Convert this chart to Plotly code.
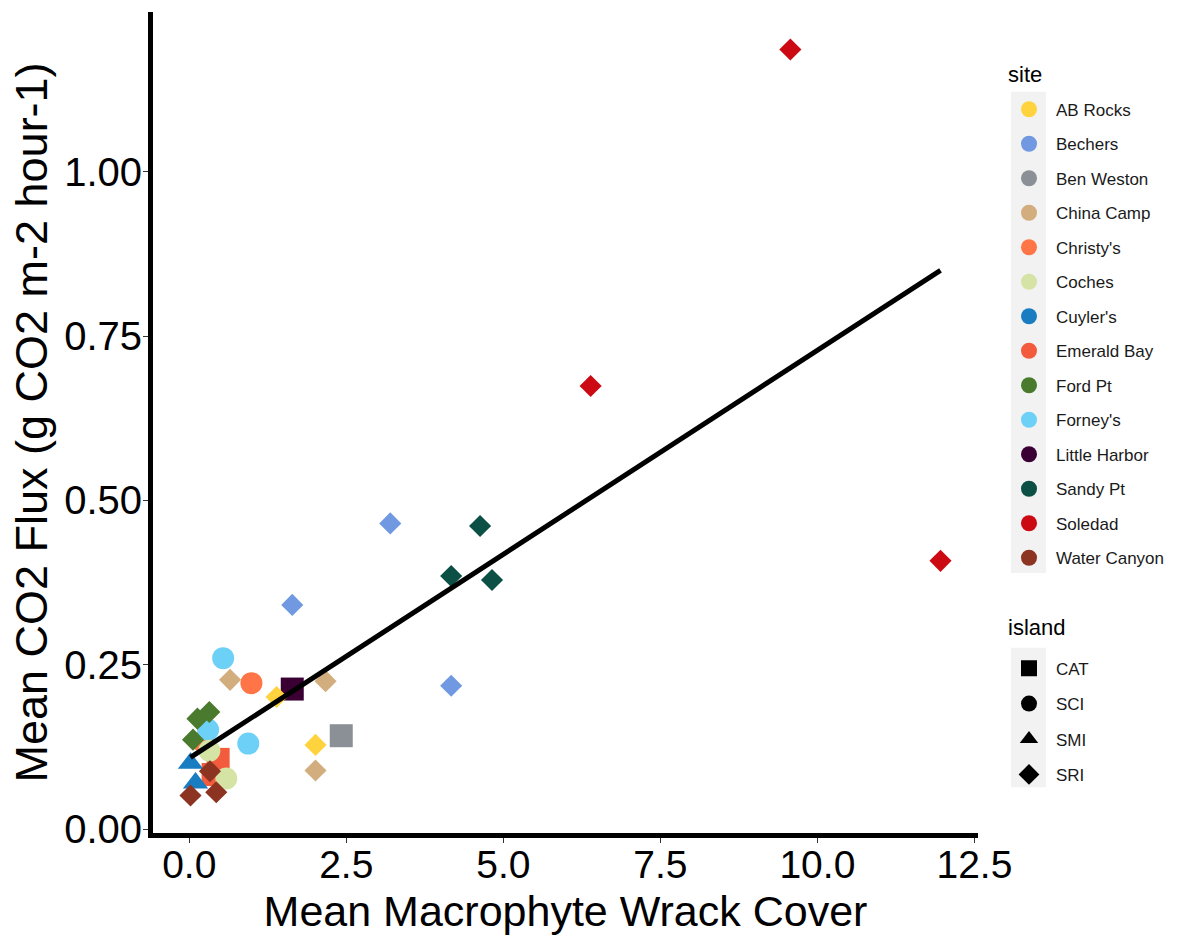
import plotly.graph_objects as go

# ---------------- data ----------------
site_names = ["AB Rocks", "Bechers", "Ben Weston", "China Camp", "Christy's", "Coches",
              "Cuyler's", "Emerald Bay", "Ford Pt", "Forney's", "Little Harbor",
              "Sandy Pt", "Soledad", "Water Canyon"]
site_colors = ["#FFD33D", "#7099E2", "#8A9096", "#D2AE7E", "#FF7547", "#D5E3A4",
               "#1A7DC2", "#F25C3D", "#4A7A2E", "#6DD0F7", "#3A0033",
               "#0B4F45", "#CC0A14", "#8C3322"]

island_names = ["CAT", "SCI", "SMI", "SRI"]
island_symbols = ["square", "circle", "triangle-up", "diamond"]

point_site = ["Soledad", "Soledad", "Soledad",
              "Sandy Pt", "Sandy Pt", "Sandy Pt",
              "Bechers", "Bechers", "Bechers",
              "Little Harbor", "Ben Weston",
              "China Camp", "China Camp", "China Camp",
              "AB Rocks", "AB Rocks",
              "Christy's", "Christy's",
              "Forney's", "Forney's", "Forney's",
              "Ford Pt", "Ford Pt", "Ford Pt",
              "Emerald Bay", "Emerald Bay",
              "Coches", "Coches",
              "Cuyler's", "Cuyler's",
              "Water Canyon", "Water Canyon", "Water Canyon"]
point_island = ["SRI", "SRI", "SRI",
                "SRI", "SRI", "SRI",
                "SRI", "SRI", "SRI",
                "CAT", "CAT",
                "SRI", "SRI", "SRI",
                "SRI", "SRI",
                "SCI", "SCI",
                "SCI", "SCI", "SCI",
                "SRI", "SRI", "SRI",
                "CAT", "CAT",
                "SCI", "SCI",
                "SMI", "SMI",
                "SRI", "SRI", "SRI"]
wrack_cover = [9.57, 6.39, 11.96,
               4.63, 4.17, 4.82,
               3.20, 4.17, 1.64,
               1.64, 2.42,
               0.65, 2.17, 2.01,
               1.39, 2.01,
               0.99, 0.22,
               0.54, 0.30, 0.94,
               0.06, 0.13, 0.32,
               0.46, 0.38,
               0.32, 0.59,
               0.02, 0.10,
               0.33, 0.02, 0.43]
co2_flux = [1.186, 0.674, 0.408,
            0.461, 0.385, 0.379,
            0.465, 0.218, 0.341,
            0.213, 0.142,
            0.227, 0.225, 0.089,
            0.201, 0.128,
            0.222, 0.133,
            0.260, 0.151, 0.130,
            0.136, 0.168, 0.178,
            0.106, 0.083,
            0.119, 0.077,
            0.100, 0.070,
            0.088, 0.051, 0.056]

# linear fit line
trend_x = [0.02, 11.96]
trend_y = [0.109, 0.850]

x_ticks = [0.0, 2.5, 5.0, 7.5, 10.0, 12.5]
x_tick_labels = ["0.0", "2.5", "5.0", "7.5", "10.0", "12.5"]
y_ticks = [0.0, 0.25, 0.5, 0.75, 1.0]
y_tick_labels = ["0.00", "0.25", "0.50", "0.75", "1.00"]

# ---------------- styling ----------------
FONT = "Arial, Liberation Sans, sans-serif"
sym_map = dict(zip(island_names, island_symbols))
size_map = {"square": 23, "circle": 22, "triangle-up": 22, "diamond": 17}
color_map = dict(zip(site_names, site_colors))

fig = go.Figure()

# data points, drawn in row order
for i in range(len(wrack_cover)):
    sym = sym_map[point_island[i]]
    fig.add_trace(go.Scatter(
        x=[wrack_cover[i]], y=[co2_flux[i]], mode="markers",
        marker=dict(color=color_map[point_site[i]], symbol=sym, size=size_map[sym],
                    line=dict(width=0)),
        showlegend=False, hoverinfo="skip"))

# regression line
fig.add_trace(go.Scatter(x=trend_x, y=trend_y, mode="lines",
                         line=dict(color="black", width=5),
                         showlegend=False, hoverinfo="skip"))

# legend entries: site
for name, col in zip(site_names, site_colors):
    fig.add_trace(go.Scatter(x=[None], y=[None], mode="markers", name=name,
                             marker=dict(color=col, symbol="circle", size=16),
                             legend="legend", legendgroup=name))
# legend entries: island
for name, sym in zip(island_names, island_symbols):
    fig.add_trace(go.Scatter(x=[None], y=[None], mode="markers", name=name,
                             marker=dict(color="black", symbol=sym, size=16),
                             legend="legend2", legendgroup="isl_" + name))

L, R, T, B = 153, 204, 12, 105
W, H = 1182, 941
pw, ph = W - L - R, H - T - B

def px_x(p):
    return (p - L) / pw

def px_y(p):
    return (H - B - p) / ph

legend_common = dict(
    xanchor="left", yanchor="top", bgcolor="rgba(0,0,0,0)", borderwidth=0,
    font=dict(family=FONT, size=17, color="#1a1a1a"),
    itemwidth=44, itemclick=False, itemdoubleclick=False,
)

fig.update_layout(
    width=W, height=H,
    margin=dict(l=L, r=R, t=T, b=B, pad=0),
    paper_bgcolor="white", plot_bgcolor="white",
    font=dict(family=FONT, color="black"),
    xaxis=dict(range=[-0.577, 12.557], tickvals=x_ticks, ticktext=x_tick_labels,
               showgrid=False, zeroline=False, showline=True, linecolor="black",
               linewidth=5, ticks="outside", ticklen=5, tickwidth=1.2, tickcolor="#333333",
               tickfont=dict(family=FONT, size=39, color="black"),
               ticklabelstandoff=-12,
               title=dict(text="Mean Macrophyte Wrack Cover",
                          font=dict(family=FONT, size=43, color="black"), standoff=13)),
    yaxis=dict(range=[-0.006, 1.243], tickvals=y_ticks, ticktext=y_tick_labels,
               showgrid=False, zeroline=False, showline=True, linecolor="black",
               linewidth=5, ticks="outside", ticklen=5, tickwidth=1.2, tickcolor="#333333",
               tickfont=dict(family=FONT, size=40, color="black"),
               ticklabelstandoff=-7,
               title=dict(text="Mean CO2 Flux (g CO2 m-2 hour-1)",
                          font=dict(family=FONT, size=45, color="black"), standoff=4)),
    legend=dict(x=px_x(1002), y=px_y(92), tracegroupgap=9.4, **legend_common),
    legend2=dict(x=px_x(1002), y=px_y(653), tracegroupgap=10.3, **legend_common),
    annotations=[
        dict(text="site", xref="paper", yref="paper", x=px_x(1006), y=px_y(75),
             xanchor="left", yanchor="middle", showarrow=False,
             font=dict(family=FONT, size=22, color="black")),
        dict(text="island", xref="paper", yref="paper", x=px_x(1006), y=px_y(630),
             xanchor="left", yanchor="middle", showarrow=False,
             font=dict(family=FONT, size=22, color="black")),
    ],
    shapes=[
        dict(type="rect", xref="paper", yref="paper",
             x0=px_x(1011), x1=px_x(1046), y0=px_y(575), y1=px_y(92),
             fillcolor="#F2F2F2", line=dict(width=0), layer="below"),
        dict(type="rect", xref="paper", yref="paper",
             x0=px_x(1011), x1=px_x(1046), y0=px_y(790), y1=px_y(650),
             fillcolor="#F2F2F2", line=dict(width=0), layer="below"),
    ],
)

fig.write_html("out.html")
